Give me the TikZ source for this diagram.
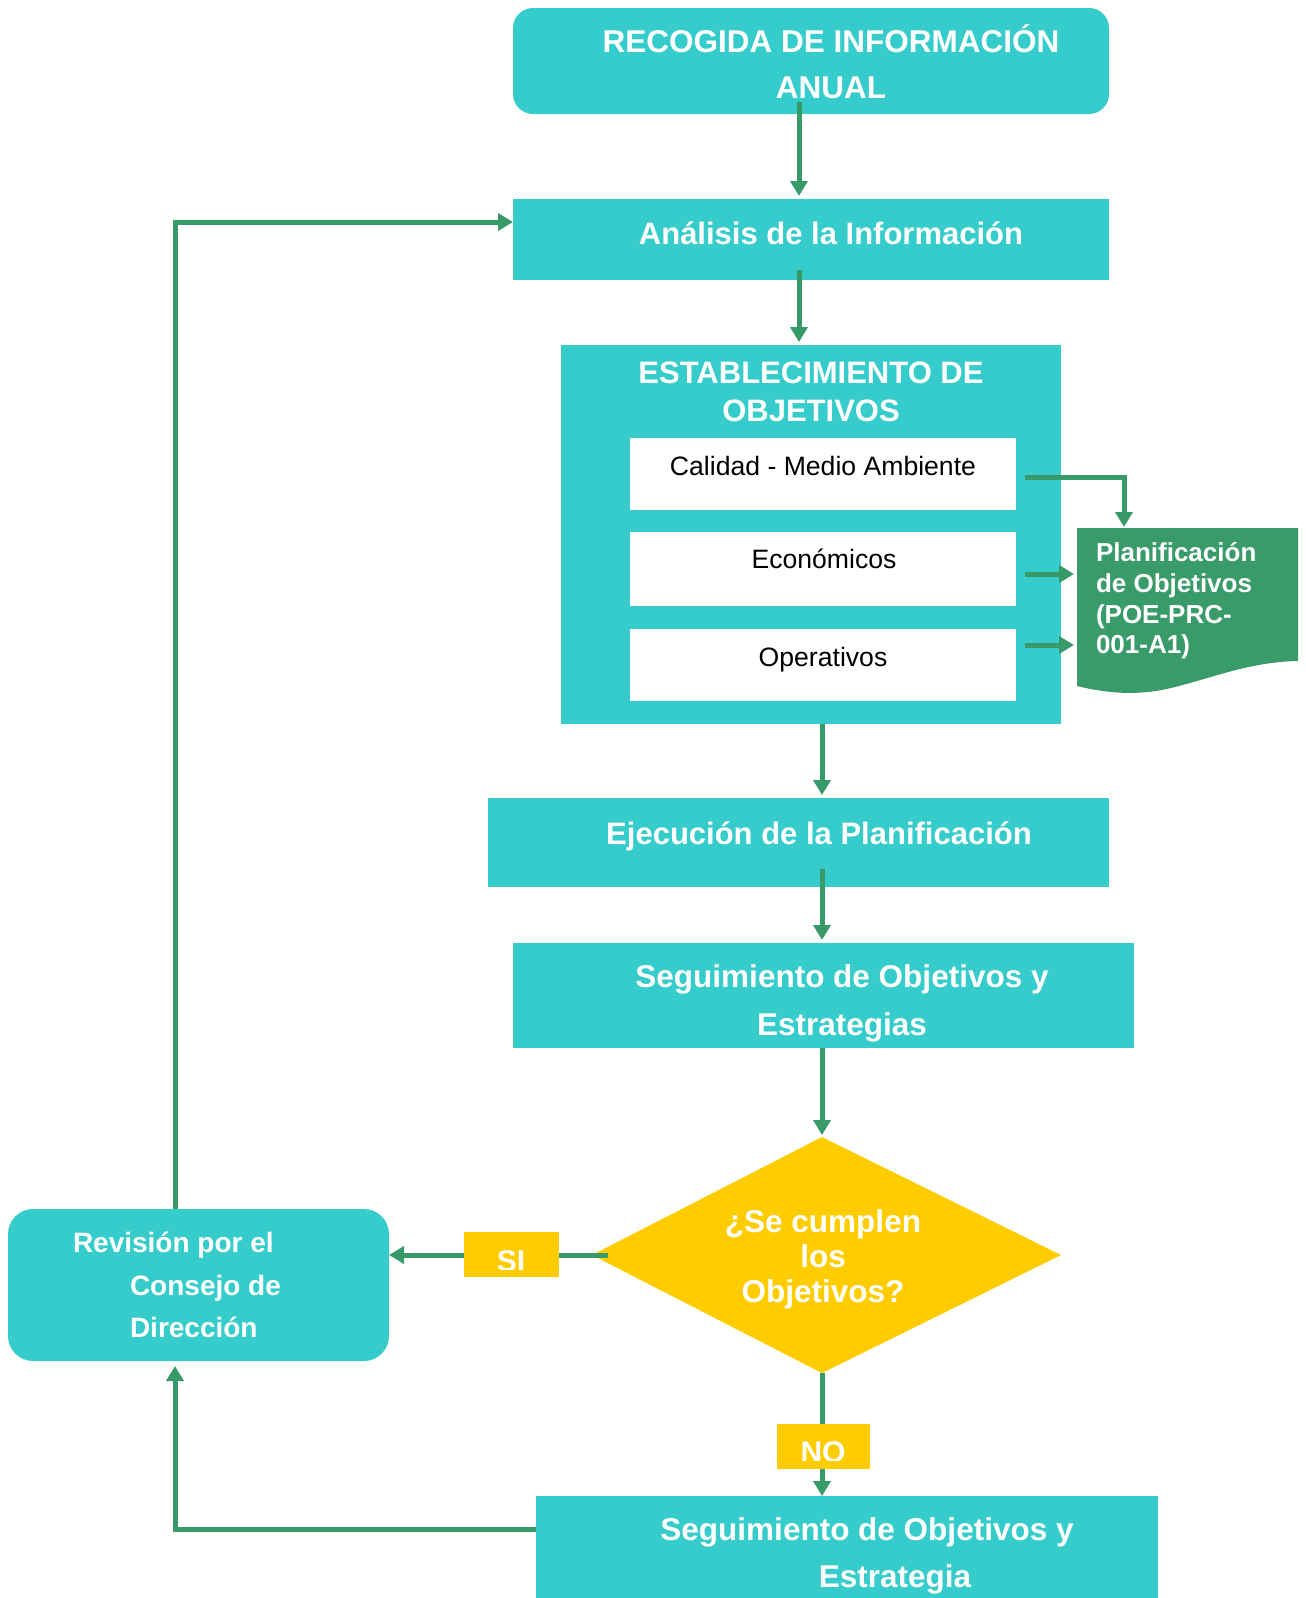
\documentclass[tikz,border=0pt]{standalone}
\usepackage{fontspec}
\setmainfont{Liberation Sans}
\usetikzlibrary{arrows.meta,calc}

\definecolor{boxteal}{RGB}{54,204,204}
\definecolor{flowgreen}{RGB}{56,154,104}
\definecolor{docgreen}{RGB}{57,155,105}
\definecolor{decyellow}{RGB}{255,204,0}

\newcommand\fbig{\bfseries\fontsize{31.5}{38}\selectfont}
\newcommand\fhead{\bfseries\fontsize{31}{38}\selectfont}
\newcommand\ftag{\bfseries\fontsize{30}{36}\selectfont}
\newcommand\frev{\bfseries\fontsize{28}{34}\selectfont}
\newcommand\fdoc{\bfseries\fontsize{26}{31}\selectfont}
\newcommand\fitem{\fontsize{26.6}{32}\selectfont}

\begin{document}
\begin{tikzpicture}[x=1pt,y=-1pt,
  panel/.style={fill=boxteal,inner sep=0pt,outer sep=0pt,anchor=north west},
  itembox/.style={fill=white,inner sep=0pt,outer sep=0pt,anchor=north west,
    minimum width=386pt},
  tag/.style={fill=decyellow,inner sep=0pt,outer sep=0pt,anchor=north west},
  lbl/.style={inner sep=0pt,outer sep=0pt,text=white,anchor=base},
  lblw/.style={lbl,anchor=base west},
  link/.style={draw=flowgreen,line width=5pt},
  flow/.style={link,-{Triangle[width=17pt,length=15pt]}}
]
\useasboundingbox (0,0) rectangle (1306,1598);

% ---- boxes ----
\node[panel,rounded corners=20pt,minimum width=596pt,minimum height=106pt]
  (recog) at (513,8) {};
\node[panel,minimum width=596pt,minimum height=81pt] (analisis) at (513,199) {};
\node[panel,minimum width=500pt,minimum height=379pt] (estab) at (561,345) {};
\node[itembox,minimum height=72pt] (calidad) at (630,438) {};
\node[itembox,minimum height=74pt] (econ) at (630,532) {};
\node[itembox,minimum height=72pt] (oper) at (630,629) {};
\node[panel,minimum width=621pt,minimum height=89pt] (ejec) at (488,798) {};
\node[panel,minimum width=621pt,minimum height=105pt] (seg) at (513,943) {};

% decision diamond
\coordinate (dec-n) at (822,1137);
\coordinate (dec-e) at (1061,1255);
\coordinate (dec-s) at (822,1373);
\coordinate (dec-w) at (592,1255);
\fill[decyellow] (dec-n) -- (dec-e) -- (dec-s) -- (dec-w) -- cycle;

\node[tag,minimum width=95pt,minimum height=45pt] (sibox) at (464,1232) {};
\node[tag,minimum width=93pt,minimum height=45pt] (nobox) at (777,1424) {};
\node[panel,rounded corners=25pt,minimum width=381pt,minimum height=152pt]
  (revision) at (8,1209) {};
\node[panel,minimum width=622pt,minimum height=114pt] (seg2) at (536,1496) {};

% document shape with a wavy lower edge
\node[inner sep=0pt,outer sep=0pt,anchor=north west,
  minimum width=221pt,minimum height=165pt] (plan) at (1077,528) {};
\fill[docgreen] (plan.north west) -- (plan.north east) -- (1298,661)
  .. controls (1250,662) and (1215,677) .. (1175,687)
  .. controls (1140,696) and (1110,694) .. (1077,686) -- cycle;

% ---- texts ----
\node[lbl] (t-recog1) at (831,52) {\fbig RECOGIDA DE INFORMACIÓN};
\node[lbl] (t-recog2) at (831,98) {\fbig ANUAL};
\node[lbl] (t-analisis) at (831,244) {\fhead Análisis de la Información};
\node[lbl] (t-estab1) at (811,383) {\fhead ESTABLECIMIENTO DE};
\node[lbl] (t-estab2) at (811,421) {\fhead OBJETIVOS};
\node[lbl,text=black] (t-calidad) at (823,475) {\fitem Calidad - Medio Ambiente};
\node[lbl,text=black] (t-econ) at (824,568) {\fitem Económicos};
\node[lbl,text=black] (t-oper) at (823,666) {\fitem Operativos};
\node[lblw] (t-plan1) at (1096,561) {\fdoc Planificación};
\node[lblw] (t-plan2) at (1096,592) {\fdoc de Objetivos};
\node[lblw] (t-plan3) at (1096,623) {\fdoc (POE-PRC-};
\node[lblw] (t-plan4) at (1096,653) {\fdoc 001-A1)};
\node[lbl] (t-ejec) at (819,844) {\fhead Ejecución de la Planificación};
\node[lbl] (t-seg1) at (842,987) {\fbig Seguimiento de Objetivos y};
\node[lbl] (t-seg2) at (842,1035) {\fbig Estrategias};
\node[lbl] (t-dec1) at (823,1232) {\fbig ¿Se cumplen};
\node[lbl] (t-dec2) at (823,1267) {\fbig los};
\node[lbl] (t-dec3) at (823,1302) {\fbig Objetivos?};
\begin{scope}
  \clip (sibox.north west) rectangle ($(sibox.south east)+(0,-8)$);
  \node[lbl] (t-si) at (511,1271) {\ftag SI};
\end{scope}
\begin{scope}
  \clip (nobox.north west) rectangle ($(nobox.south east)+(0,-9)$);
  \node[lbl] (t-no) at (823,1462) {\ftag NO};
\end{scope}
\node[lblw] (t-rev1) at (73,1252) {\frev Revisión por el};
\node[lblw] (t-rev2) at (130,1295) {\frev Consejo de};
\node[lblw] (t-rev3) at (130,1337) {\frev Dirección};
\node[lbl] (t-segb1) at (867,1540) {\fbig Seguimiento de Objetivos y};
\node[lbl] (t-segb2) at (895,1587) {\fbig Estrategia};

% ---- connectors ----
\draw[flow] ($(recog.south)+(-12,-12)$) -- ($(analisis.north)+(-12,-3)$);
\draw[flow] ($(analisis.south)+(-12,-10)$) -- ($(estab.north)+(-12,-3)$);
\draw[flow] ($(calidad.east)+(9,3)$) -| ($(plan.north west)+(47,-1)$);
\draw[flow] ($(econ.east)+(9,5)$) -- ($(plan.west |- econ.east)+(-3,5)$);
\draw[flow] ($(oper.east)+(9,-20)$) -- ($(plan.west |- oper.east)+(-3,-20)$);
\draw[flow] ($(estab.south)+(11,0)$) -- ($(ejec.north)+(23.5,-3)$);
\draw[flow] ($(ejec.south)+(23.5,-18)$) -- ($(seg.north)+(-1.5,-3)$);
\draw[flow] ($(seg.south)+(-1.5,0)$) -- ($(dec-n)+(0,-2)$);
\draw[link] ($(dec-w)+(16,0)$) -- (sibox.east |- dec-w);
\draw[flow] (sibox.west |- dec-w) -- (revision.east |- dec-w);
\draw[link] (dec-s) -- (nobox.north -| dec-s);
\draw[flow] (nobox.south -| dec-s) -- (seg2.north -| dec-s);
\draw[flow] ($(seg2.north west)+(0,33)$) -| ($(revision.south)+(-23.5,5)$);
\draw[flow] ($(revision.north)+(-23.5,0)$) |- ($(analisis.west)+(0,-17.5)$);
\end{tikzpicture}
\end{document}
